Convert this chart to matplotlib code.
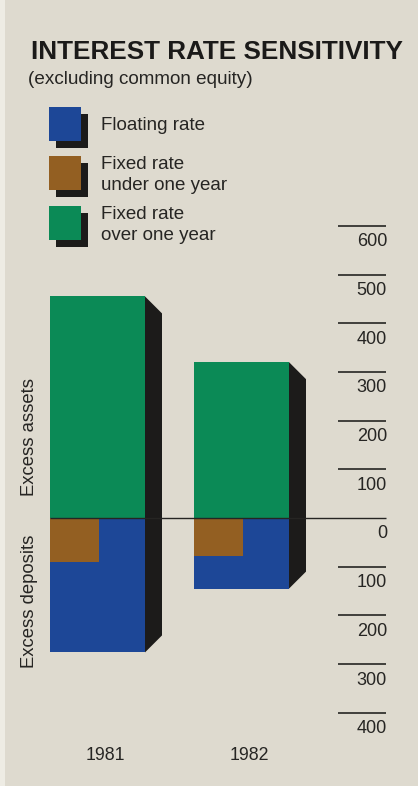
# ==== IMPORT ================================================================ #

import matplotlib
matplotlib.use("Agg")

import matplotlib.pyplot as plt
from matplotlib.patches  import Polygon, Rectangle

# ==== DATA ================================================================== #

years           = ["1981", "1982"]
fixed_over_year = [455, 320]     # excess assets, above zero
excess_deposits = [276, 145]     # floating rate block, below zero
fixed_under     = [90, 78]       # fixed rate under one year, below zero

tick_values = [600, 500, 400, 300, 200, 100, 0, -100, -200, -300, -400]

legend_labels = ["Floating rate",
                 "Fixed rate\nunder one year",
                 "Fixed rate\nover one year"]

# ==== STYLE ================================================================= #

W, H     = 418, 786
ZERO_PX  = 518           # pixel row of the zero line
PX_UNIT  = 0.487         # pixels per unit of value
DEPTH    = 17            # side face depth, pixels

BG     = "#dedacf"
INK    = "#262523"
BLUE   = "#1d4797"
BROWN  = "#935f22"
GREEN  = "#0b8a56"
SHADOW = "#1c1b1a"

FONT = "Liberation Sans"

bar_left  = [50, 194]
bar_width = 95

# ==== FUNCTIONS ============================================================= #

def fy(py):
    # figure fraction from a pixel row (top = 0)
    return 1 - py / H


def fx(px):
    return px / W


def side_face(ax, x, top, bottom):
    d = DEPTH / PX_UNIT
    ax.add_patch(Polygon([(x, top), (x + DEPTH, top - d),
                          (x + DEPTH, bottom + d), (x, bottom)],
                         closed=True, fc=SHADOW, ec="none", zorder=2))


def draw():

    fig = plt.figure(figsize=(W / 100, H / 100), dpi=100, facecolor=BG)
    ax  = fig.add_axes([0, 0, 1, 1])
    ax.set_xlim(0, W)
    ax.set_ylim(-(H - ZERO_PX) / PX_UNIT, ZERO_PX / PX_UNIT)
    ax.set_facecolor(BG)
    ax.axis("off")

    # paper edge
    ax.add_patch(Rectangle((0, ax.get_ylim()[0]), 5, 2000,
                           fc="#eeece4", ec="none", zorder=0))

    # value scale on the right
    for v in tick_values:
        x0 = bar_left[0] if v == 0 else 338
        ax.plot([x0, 386], [v, v], color=INK, lw=1.2 if v else 1.0,
                zorder=5 if v == 0 else 1, solid_capstyle="butt")
        ax.text(387, v - 16 / PX_UNIT, str(abs(v)), ha="right", va="center",
                fontsize=13, family=FONT, color=INK)

    # bars
    for i, yr in enumerate(years):
        x = bar_left[i]
        top    = fixed_over_year[i]
        bottom = -excess_deposits[i]
        ax.bar(x, top, width=bar_width, align="edge", color=GREEN, zorder=3)
        ax.bar(x, bottom, width=bar_width, align="edge", color=BLUE, zorder=3)
        ax.bar(x, -fixed_under[i], width=bar_width / 2 + 1, align="edge",
               color=BROWN, zorder=4)
        side_face(ax, x + bar_width, top, bottom)
        ax.text(x + bar_width / 2 + 8, -(755 - ZERO_PX) / PX_UNIT, yr,
                ha="center", va="center", fontsize=12.8, family=FONT,
                color=INK)

    ax.text(30, -(601 - ZERO_PX) / PX_UNIT, "Excess deposits", rotation=90,
            ha="center", va="center", fontsize=13.3, family=FONT, color=INK)
    ax.text(30, (ZERO_PX - 437) / PX_UNIT, "Excess assets", rotation=90,
            ha="center", va="center", fontsize=13.3, family=FONT, color=INK)

    # title block
    fig.text(fx(31), fy(52), "INTEREST RATE SENSITIVITY", ha="left",
             va="center", fontsize=18.8, weight="bold", family=FONT,
             color="#1b1a19")
    fig.text(fx(28), fy(80), "(excluding common equity)", ha="left",
             va="center", fontsize=13.6, family=FONT, color=INK)

    # legend swatches with a dark drop side
    tops = [107, 156, 206]
    for i, (c, lab) in enumerate(zip([BLUE, BROWN, GREEN], legend_labels)):
        y0 = tops[i]
        fig.patches.append(Rectangle((fx(49 + 7), fy(y0 + 34 + 7)),
                                     32 / W, 34 / H, fc=SHADOW, ec="none",
                                     transform=fig.transFigure))
        fig.patches.append(Rectangle((fx(49), fy(y0 + 34)), 32 / W, 34 / H,
                                     fc=c, ec="none",
                                     transform=fig.transFigure))
        fig.text(fx(101), fy(y0 + 19), lab, ha="left", va="center",
                 fontsize=13.5, family=FONT, color=INK, linespacing=1.28)

    fig.savefig("out.png", dpi=100, facecolor=BG)

# ==== MAIN ================================================================== #

def main():

    draw()


if __name__ == "__main__":

    main()
